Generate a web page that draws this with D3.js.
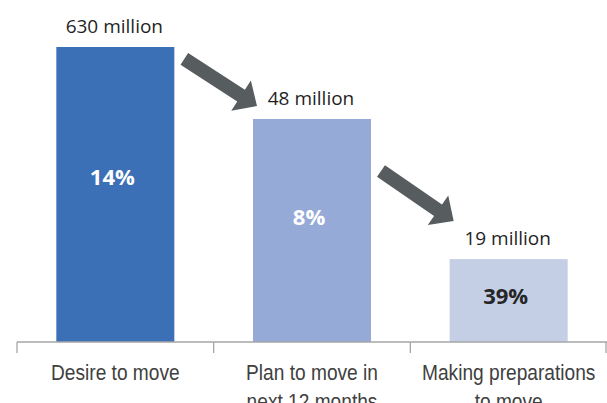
<!DOCTYPE html>
<html>
<head>
<meta charset="utf-8">
<script src="https://cdn.jsdelivr.net/npm/d3@7"></script>
<style>
  html, body { margin: 0; padding: 0; background: #fff; }
  svg { display: block; }
</style>
</head>
<body>
<svg width="607" height="403"></svg>
<script>
// chart data
const CATEGORIES = [
  ["Desire to move"],
  ["Plan to move in", "next 12 months"],
  ["Making preparations", "to move"]
];
const CAT_KEYS = ["desire", "plan", "prep"];
const BAR_INDEX = [100, 75.6, 28.1];      // relative bar height
const VALUE_LABELS = ["630 million", "48 million", "19 million"];
const PCT_LABELS = ["14%", "8%", "39%"];
const BAR_COLORS = ["#3b6fb6", "#95aad6", "#c4cfe6"];
const PCT_COLORS = ["#ffffff", "#ffffff", "#262626"];
// arrows: from bar i to bar i+1, levels on the bar index scale
const ARROW_FROM = [96, 58];
const ARROW_TO = [80, 41];

const svg = d3.select("svg");
const width = 607;
const baseY = 342;

const xAxisScale = d3.scaleBand()
  .domain(CAT_KEYS)
  .range([17, width])
  .padding(0);

const xScale = d3.scaleBand()
  .domain(CAT_KEYS)
  .range([17, width])
  .paddingInner(0.4)
  .paddingOuter(0.2);

const yScale = d3.scaleLinear()
  .domain([0, 100])
  .range([baseY, 47]);

// bars
svg.selectAll(".bar")
  .data(CAT_KEYS)
  .enter()
  .append("rect")
  .attr("class", "bar")
  .attr("x", d => xScale(d))
  .attr("width", xScale.bandwidth())
  .attr("y", (d, i) => yScale(BAR_INDEX[i]))
  .attr("height", (d, i) => baseY - yScale(BAR_INDEX[i]))
  .attr("fill", (d, i) => BAR_COLORS[i]);

// axis line + ticks at band edges
const axisG = svg.append("g").attr("stroke", "#a6a6a6").attr("stroke-width", 1.3);
axisG.append("line")
  .attr("x1", xAxisScale.range()[0]).attr("x2", xAxisScale.range()[1])
  .attr("y1", baseY).attr("y2", baseY);
const tickXs = CAT_KEYS.map(d => xAxisScale(d)).concat([xAxisScale.range()[1] - 1]);
axisG.selectAll(".tick")
  .data(tickXs)
  .enter()
  .append("line")
  .attr("x1", d => d).attr("x2", d => d)
  .attr("y1", baseY).attr("y2", baseY + 11);

// category labels (Arial-like, slightly condensed)
const catG = svg.selectAll(".cat")
  .data(CAT_KEYS)
  .enter()
  .append("text")
  .attr("class", "cat")
  .attr("transform", d => `translate(${xAxisScale(d) + xAxisScale.bandwidth() / 2},380) scale(0.87,1)`)
  .attr("text-anchor", "middle")
  .attr("font-family", "'Liberation Sans', Arial, sans-serif")
  .attr("font-size", 22)
  .attr("fill", "#404040");
catG.selectAll("tspan")
  .data((d, i) => CATEGORIES[i])
  .enter()
  .append("tspan")
  .attr("x", 0)
  .attr("dy", (d, j) => j === 0 ? 0 : 29)
  .text(d => d);

// value labels above bars
svg.selectAll(".val")
  .data(CAT_KEYS)
  .enter()
  .append("text")
  .attr("class", "val")
  .attr("x", d => xScale(d) + xScale.bandwidth() / 2 - 1)
  .attr("y", (d, i) => yScale(BAR_INDEX[i]) - 14)
  .attr("text-anchor", "middle")
  .attr("font-family", "'Open Sans', 'Noto Sans', sans-serif")
  .attr("font-size", 19)
  .attr("fill", "#1f1f1f")
  .text((d, i) => VALUE_LABELS[i]);

// percent labels inside bars (a bit above the middle)
svg.selectAll(".pct")
  .data(CAT_KEYS)
  .enter()
  .append("text")
  .attr("class", "pct")
  .attr("x", d => xScale(d) + xScale.bandwidth() / 2 - 3)
  .attr("y", (d, i) => {
    const top = yScale(BAR_INDEX[i]);
    return top + (baseY - top) * 0.44 + 8;
  })
  .attr("text-anchor", "middle")
  .attr("font-family", "'Open Sans', 'Noto Sans', sans-serif")
  .attr("font-weight", 700)
  .attr("font-size", 22)
  .attr("fill", (d, i) => PCT_COLORS[i])
  .text((d, i) => PCT_LABELS[i]);

// arrows
function arrowPath(x0, y0, x1, y1) {
  const dx = x1 - x0, dy = y1 - y0;
  const len = Math.hypot(dx, dy);
  const ux = dx / len, uy = dy / len;
  const nx = -uy, ny = ux;
  const sw = 7, hw = 18, hl = 19;
  const bx = x1 - ux * hl, by = y1 - uy * hl;
  const pts = [
    [x0 + nx * sw, y0 + ny * sw],
    [bx + nx * sw, by + ny * sw],
    [bx + nx * hw, by + ny * hw],
    [x1, y1],
    [bx - nx * hw, by - ny * hw],
    [bx - nx * sw, by - ny * sw],
    [x0 - nx * sw, y0 - ny * sw]
  ];
  return d3.line()(pts) + "Z";
}

svg.selectAll(".arrow")
  .data(ARROW_FROM)
  .enter()
  .append("path")
  .attr("class", "arrow")
  .attr("d", (d, i) => {
    const x0 = xScale(CAT_KEYS[i]) + xScale.bandwidth() + 10;
    const x1 = xScale(CAT_KEYS[i + 1]) + 4;
    return arrowPath(x0, yScale(d), x1, yScale(ARROW_TO[i]));
  })
  .attr("fill", "#575c5e");
</script>
</body>
</html>
